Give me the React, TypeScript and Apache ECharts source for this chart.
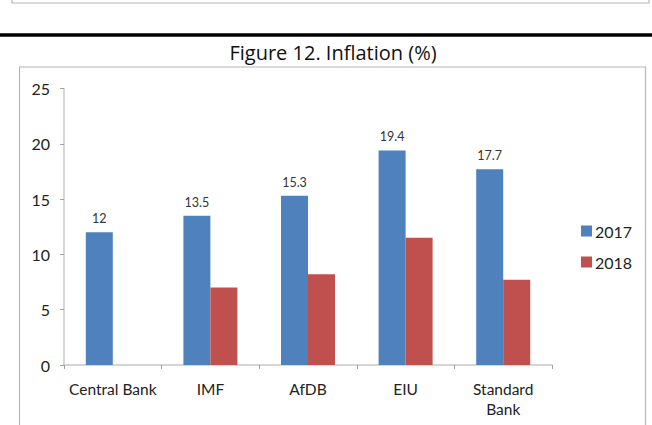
import React, { useEffect, useRef } from "react";
import * as echarts from "echarts";

const categories = ["Central Bank", "IMF", "AfDB", "EIU", "Standard\nBank"];
const values2017 = [12, 13.5, 15.3, 19.4, 17.7];
const values2018: (number | null)[] = [null, 7.0, 8.2, 11.5, 7.7];
const seriesNames = ["2017", "2018"];
const titleText = "Figure 12. Inflation (%)";

const FONT = "Lato, 'Noto Sans', sans-serif";

export default function App() {
  const ref = useRef<HTMLDivElement>(null);
  useEffect(() => {
    if (!ref.current) return;
    const chart = echarts.init(ref.current, undefined, { renderer: "svg" });
    chart.setOption({
      animation: false,
      backgroundColor: "#ffffff",
      textStyle: { fontFamily: FONT },
      graphic: [
        {
          type: "rect",
          shape: { x: 12, y: -10, width: 637, height: 13 },
          style: { fill: "none", stroke: "#b8b8b8", lineWidth: 1.2 },
        },
        {
          type: "line",
          shape: { x1: 0, y1: 35, x2: 652, y2: 35 },
          style: { stroke: "#000000", lineWidth: 3.5 },
        },
        {
          type: "text",
          x: 333,
          y: 52,
          style: {
            text: titleText,
            fontSize: 20,
            fontFamily: "'Open Sans', sans-serif",
            fill: "#111111",
            align: "center",
            verticalAlign: "middle",
          },
        },
        {
          type: "rect",
          shape: { x: 19.5, y: 67, width: 626, height: 380 },
          style: { fill: "none", stroke: "#b5b5b5", lineWidth: 1.2 },
        },
      ],
      grid: { left: 64, right: 100, top: 88.5, bottom: 60, containLabel: false },
      legend: {
        orient: "vertical",
        left: 576,
        top: 218,
        itemWidth: 11,
        itemHeight: 11,
        itemGap: 15,
        icon: "rect",
        textStyle: { fontSize: 16, color: "#222", fontFamily: FONT, padding: [0, 0, 0, -2] },
        data: seriesNames,
      },
      xAxis: {
        type: "category",
        data: categories,
        axisLine: { show: true, lineStyle: { color: "#c8c8c8", width: 1.5 } },
        axisTick: { show: true, alignWithLabel: false, length: 4, lineStyle: { color: "#a0a0a0" } },
        axisLabel: {
          fontSize: 15.5,
          color: "#222",
          fontFamily: FONT,
          margin: 14,
          lineHeight: 20,
          interval: 0,
        },
        splitLine: { show: false },
      },
      yAxis: {
        type: "value",
        min: 0,
        max: 25,
        interval: 5,
        axisLine: { show: true, lineStyle: { color: "#c8c8c8", width: 1.5 } },
        axisTick: { show: true, length: 4, lineStyle: { color: "#a0a0a0" } },
        axisLabel: { fontSize: 16, color: "#222", fontFamily: FONT, margin: 14 },
        splitLine: { show: false },
      },
      series: [
        {
          name: seriesNames[0],
          type: "bar",
          data: values2017,
          barWidth: 27,
          barGap: "0%",
          itemStyle: { color: "#4F81BD" },
          label: {
            show: true,
            position: "top",
            distance: 7,
            fontSize: 12.5,
            color: "#333",
            fontFamily: FONT,
          },
        },
        {
          name: seriesNames[1],
          type: "bar",
          data: values2018,
          barWidth: 27,
          barGap: "0%",
          itemStyle: { color: "#C0504D" },
        },
      ],
    });
    return () => chart.dispose();
  }, []);
  return (
    <div
      ref={ref}
      style={{ position: "fixed", left: 0, top: 0, width: 652, height: 425 }}
    />
  );
}
